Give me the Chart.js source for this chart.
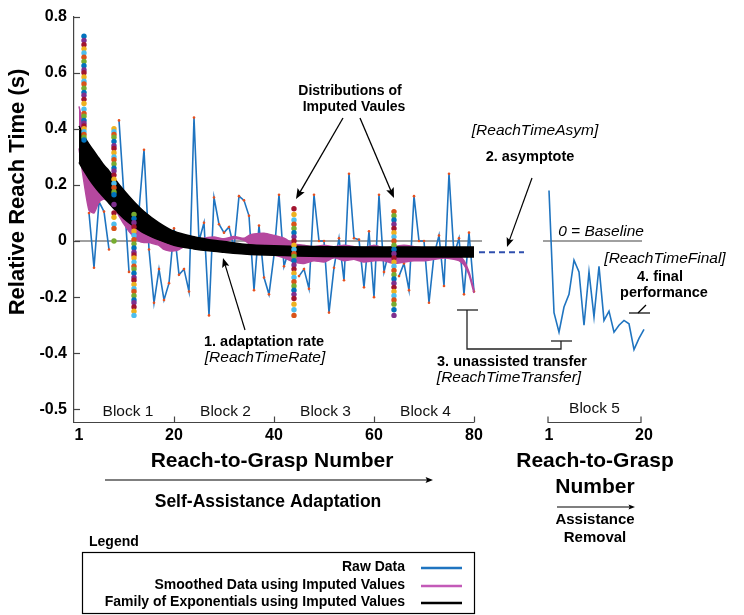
<!DOCTYPE html>
<html>
<head>
<meta charset="utf-8">
<script src="https://cdn.jsdelivr.net/npm/chart.js@4.4.0/dist/chart.umd.min.js"></script>
<style>
  body { margin: 0; background: #fff; }
  canvas { display: block; }
</style>
</head>
<body>
<canvas id="chart" width="744" height="615"></canvas>
<script>
// Relative reach time (s) per reach-to-grasp. null = missing trial
const rawMain = [
  null, null, 0.10, -0.095, 0.14, 0.105, -0.03, null, 0.43, 0.16,
  -0.11, null, 0.11, 0.325, -0.03, -0.22, -0.10, -0.21, -0.15, 0.045,
  -0.12, -0.10, -0.18, 0.44, 0.0, 0.065, -0.265, 0.155, 0.06, 0.03,
  0.05, -0.025, 0.16, 0.145, 0.09, -0.175, 0.055, -0.13, -0.19, -0.05,
  0.165, -0.09, -0.03, null, -0.125, -0.10, -0.17, 0.165, 0.0, 0.0,
  -0.255, -0.095, 0.01, -0.14, 0.24, 0.01, 0.005, -0.165, 0.035, -0.2,
  0.165, -0.11, -0.035, null, -0.125, -0.08, -0.175, 0.16, 0.0, 0.0,
  -0.22, -0.05, 0.02, -0.16, 0.24, -0.05, 0.01, -0.19, 0.03, -0.18
];
const rawBlock5 = [
  0.18, -0.255, -0.325, -0.235, -0.19, -0.068, -0.11, -0.30, -0.11, -0.27,
  -0.09, -0.283, -0.25, -0.325, -0.30, -0.283, -0.295, -0.387, -0.347, -0.315
];

// imputed value distributions at the missing trials
const imputedTrials = [2, 8, 12, 44, 64];
const imputedValues = [
  [0.73, 0.715, 0.70, 0.685, 0.67, 0.655, 0.64, 0.625, 0.61, 0.60, 0.585, 0.57, 0.56, 0.545, 0.53,
   0.52, 0.505, 0.49, 0.47, 0.455, 0.445, 0.43, 0.42, 0.41, 0.40, 0.39, 0.38, 0.37, 0.36],
  [0.40, 0.39, 0.38, 0.37, 0.355, 0.34, 0.33, 0.315, 0.30, 0.29, 0.275, 0.26, 0.25, 0.235, 0.22,
   0.205, 0.19, 0.175, 0.165, 0.13, 0.10, 0.085, 0.06, 0.045, 0.0],
  [0.095, 0.08, 0.065, 0.05, 0.035, 0.02, 0.005, -0.01, -0.025, -0.04, -0.05, -0.06, -0.075, -0.09,
   -0.10, -0.115, -0.13, -0.14, -0.155, -0.17, -0.18, -0.195, -0.21, -0.22, -0.235, -0.25, -0.265],
  [0.115, 0.095, 0.075, 0.06, 0.045, 0.03, 0.015, 0.0, -0.015, -0.03, -0.045, -0.055, -0.07, -0.085,
   -0.10, -0.115, -0.13, -0.145, -0.16, -0.175, -0.19, -0.205, -0.225, -0.245, -0.265],
  [0.105, 0.09, 0.075, 0.06, 0.045, 0.03, 0.015, 0.0, -0.015, -0.03, -0.045, -0.06, -0.075, -0.09,
   -0.105, -0.12, -0.135, -0.15, -0.165, -0.18, -0.195, -0.21, -0.225, -0.245, -0.265]
];

// smoothed data band (upper / lower edge)
const smoothTrials = [1, 2, 3, 4, 5, 6, 7, 8, 9, 10, 11, 12, 13, 14, 15, 16, 17, 18, 19, 20,
  21, 22, 24, 26, 28, 30, 32, 34, 35, 36, 38, 40, 42, 44, 46, 48, 50, 52, 54, 56, 58, 60,
  62, 64, 66, 68, 70, 72, 74, 76, 77, 78, 79, 80];
const smoothUpper = [0.48, 0.40, 0.27, 0.23, 0.25, 0.22, 0.19, 0.17, 0.15, 0.13, 0.11, 0.09, 0.075,
  0.07, 0.065, 0.055, 0.04, 0.03, 0.02, 0.015, 0.01, 0.005, 0.004, 0.01, 0.014, 0.008, 0.016, 0.01,
  0.02, 0.025, 0.028, 0.02, 0.01, -0.01, -0.015, -0.02, -0.015, -0.02, -0.015, -0.02, -0.025, -0.015,
  -0.025, -0.02, -0.015, -0.02, -0.025, -0.035, -0.04, -0.045, -0.05, -0.07, -0.11, -0.175];
const smoothLower = [0.33, 0.21, 0.11, 0.10, 0.14, 0.15, 0.14, 0.12, 0.09, 0.06, 0.035, 0.015, 0.0,
  -0.005, -0.005, -0.01, -0.015, -0.03, -0.035, -0.035, -0.03, -0.02, -0.004, 0.002, 0.006, 0.0,
  0.008, 0.003, -0.01, -0.035, -0.045, -0.05, -0.06, -0.075, -0.08, -0.07, -0.075, -0.06, -0.07,
  -0.065, -0.075, -0.07, -0.07, -0.08, -0.075, -0.07, -0.07, -0.065, -0.06, -0.065, -0.07, -0.085,
  -0.12, -0.185];

// envelope of the family of exponential fits
const expTrials = [1, 2, 3, 4, 5, 6, 7, 8, 10, 12, 14, 17, 20, 24, 27, 30, 34, 40, 50, 60, 80];
const expUpper = [0.41, 0.375, 0.345, 0.32, 0.295, 0.27, 0.25, 0.225, 0.18, 0.14, 0.105, 0.065, 0.035,
  0.015, 0.005, -0.002, -0.011, -0.017, -0.02, -0.021, -0.021];
const expLower = [0.28, 0.25, 0.222, 0.197, 0.175, 0.155, 0.135, 0.115, 0.08, 0.052, 0.028, 0.004,
  -0.015, -0.028, -0.035, -0.04, -0.046, -0.051, -0.055, -0.056, -0.057];

const asymptote = -0.04;
const asymSpan = [81, 90];

// axes
const block5Offset = 94;          // block 5 trial t is drawn at t + 94
const xTicks = [1, 20, 40, 60, 80];
const block5Ticks = [1, 20];
const yTicks = [0.8, 0.6, 0.4, 0.2, 0, -0.2, -0.4, -0.6];
const yTickLabels = ['0.8', '0.6', '0.4', '0.2', '0', '-0.2', '-0.4', '-0.5'];
const blockNames = ['Block 1', 'Block 2', 'Block 3', 'Block 4'];
const blockEdges = [1, 20, 40, 60, 80];

const FONT = 'Arial, "Liberation Sans", sans-serif';
const BLUE = '#1f74c0';
const MAGENTA = '#b5489f';
const dotColors = ['#0072bd', '#d95319', '#edb120', '#7e2f8e', '#77ac30', '#4dbeee', '#a2142f'];

const pts = (xs, ys) => xs.map((x, i) => ({ x: x, y: ys[i] }));

const datasets = [
  { label: 'Raw Data', data: rawMain.map((v, i) => ({ x: i + 1, y: v })), order: 10,
    borderColor: BLUE, borderWidth: 1.6, pointRadius: 1.3, pointBackgroundColor: '#e8501e',
    pointBorderWidth: 0, tension: 0 },
  { label: 'Raw Block 5', data: rawBlock5.map((v, i) => ({ x: i + 1 + block5Offset, y: v })), order: 10,
    borderColor: BLUE, borderWidth: 1.6, pointRadius: 0, tension: 0 },
  { label: 'smoothUpper', data: pts(smoothTrials, smoothUpper), order: 8,
    borderColor: MAGENTA, borderWidth: 1.5, pointRadius: 0, tension: 0.2, fill: false },
  { label: 'smoothLower', data: pts(smoothTrials, smoothLower), order: 8,
    borderColor: MAGENTA, borderWidth: 1.5, pointRadius: 0, tension: 0.2,
    fill: { target: 2 }, backgroundColor: MAGENTA },
  { label: 'expUpper', data: pts(expTrials, expUpper), order: 6,
    borderColor: '#000', borderWidth: 1.5, pointRadius: 0, cubicInterpolationMode: 'monotone', fill: false },
  { label: 'expLower', data: pts(expTrials, expLower), order: 6,
    borderColor: '#000', borderWidth: 1.5, pointRadius: 0, cubicInterpolationMode: 'monotone',
    fill: { target: 4 }, backgroundColor: '#000' },
  { label: 'asym', data: asymSpan.map(x => ({ x: x, y: asymptote })), order: 5,
    borderColor: '#2f4fae', borderWidth: 2, borderDash: [6, 4], pointRadius: 0 }
];
imputedTrials.forEach((t, k) => {
  datasets.push({
    label: 'imputed' + k, data: imputedValues[k].map(v => ({ x: t, y: v })), order: 1,
    showLine: false, pointRadius: 2.7, pointBorderWidth: 0,
    pointBackgroundColor: c => dotColors[(c.dataIndex * 3 + k * 2) % dotColors.length]
  });
});

function text(ctx, s, x, y, font, align) {
  ctx.font = font;
  ctx.textAlign = align || 'center';
  ctx.textBaseline = 'middle';
  ctx.fillText(s, x, y);
}
function line(ctx, coords) {
  ctx.beginPath();
  ctx.moveTo(coords[0], coords[1]);
  for (let i = 2; i < coords.length; i += 2) ctx.lineTo(coords[i], coords[i + 1]);
  ctx.stroke();
}
function arrow(ctx, x1, y1, x2, y2, head, width) {
  const a = Math.atan2(y2 - y1, x2 - x1);
  ctx.lineWidth = width;
  line(ctx, [x1, y1, x2 - Math.cos(a) * head * 0.7, y2 - Math.sin(a) * head * 0.7]);
  ctx.beginPath();
  ctx.moveTo(x2, y2);
  ctx.lineTo(x2 - head * Math.cos(a - 0.38), y2 - head * Math.sin(a - 0.38));
  ctx.lineTo(x2 - head * 0.75 * Math.cos(a), y2 - head * 0.75 * Math.sin(a));
  ctx.lineTo(x2 - head * Math.cos(a + 0.38), y2 - head * Math.sin(a + 0.38));
  ctx.closePath();
  ctx.fill();
}

const overlay = {
  id: 'overlay',
  beforeDatasetsDraw(chart) {
    const { ctx, scales: { x, y } } = chart;
    const y0 = y.getPixelForValue(0);
    ctx.save();
    ctx.strokeStyle = '#808080';
    ctx.lineWidth = 1.5;
    line(ctx, [x.getPixelForValue(0.2), y0, x.getPixelForValue(81.6), y0]);
    line(ctx, [x.getPixelForValue(93.8), y0, x.getPixelForValue(113.6), y0]);
    ctx.restore();
  },
  afterDraw(chart) {
    const { ctx, chartArea: area, scales: { x, y } } = chart;
    const B = 'bold ', I = 'italic ';
    ctx.save();
    ctx.fillStyle = '#000';
    ctx.strokeStyle = '#444';
    ctx.lineWidth = 1.2;

    // y tick marks (inside)
    yTicks.forEach(v => {
      const py = Math.round(y.getPixelForValue(v)) + 0.5;
      line(ctx, [area.left, py, area.left + 6, py]);
    });
    // bottom axis for blocks 1-4
    const yb = area.bottom + 0.5;
    line(ctx, [area.left, yb, x.getPixelForValue(80), yb]);
    blockEdges.slice(1).forEach(v => {
      const px = Math.round(x.getPixelForValue(v)) + 0.5;
      line(ctx, [px, yb, px, yb - 6]);
    });
    // block 5 bracket
    const b5a = x.getPixelForValue(block5Offset + 1) - 1, b5b = x.getPixelForValue(block5Offset + 20) - 3;
    line(ctx, [b5a, yb - 6, b5a, yb, b5b, yb, b5b, yb - 6]);

    // block labels
    ctx.fillStyle = '#111';
    blockNames.forEach((name, i) => {
      text(ctx, name, x.getPixelForValue((blockEdges[i] + blockEdges[i + 1]) / 2 + 0.3), 412, '15.5px ' + FONT);
    });
    text(ctx, 'Block 5', (b5a + b5b) / 2, 409, '15.5px ' + FONT);

    // axis titles
    ctx.fillStyle = '#000';
    ctx.save();
    ctx.translate(18, 192);
    ctx.rotate(-Math.PI / 2);
    text(ctx, 'Relative Reach Time (s)', 0, 0, B + '22px ' + FONT);
    ctx.restore();
    text(ctx, 'Reach-to-Grasp Number', 272, 461, B + '21px ' + FONT);
    ctx.strokeStyle = '#000';
    arrow(ctx, 105, 480, 433, 480, 8, 1.2);
    text(ctx, 'Self-Assistance Adaptation', 268, 502, B + '17.5px ' + FONT);
    text(ctx, 'Reach-to-Grasp', 595, 461, B + '21px ' + FONT);
    text(ctx, 'Number', 595, 487, B + '21px ' + FONT);
    arrow(ctx, 557, 507, 635, 507, 7, 1.2);
    text(ctx, 'Assistance', 595, 520, B + '15px ' + FONT);
    text(ctx, 'Removal', 595, 538, B + '15px ' + FONT);

    // annotations
    text(ctx, 'Distributions of', 350, 91, B + '14px ' + FONT);
    text(ctx, 'Imputed Vaules', 354, 107, B + '14px ' + FONT);
    arrow(ctx, 343, 118, x.getPixelForValue(imputedTrials[3]) + 2, 199, 11, 1.3);
    arrow(ctx, 360, 118, x.getPixelForValue(imputedTrials[4]), 198, 11, 1.3);

    text(ctx, '[ReachTimeAsym]', 535, 131, I + '15.5px ' + FONT);
    text(ctx, '2. asymptote', 530, 157, B + '14.5px ' + FONT);
    arrow(ctx, 532, 178, 507, 247, 10, 1.2);

    text(ctx, '0 = Baseline', 601, 232, I + '15.5px ' + FONT);

    text(ctx, '[ReachTimeFinal]', 665, 259, I + '15.5px ' + FONT);
    text(ctx, '4. final', 660, 277, B + '14.5px ' + FONT);
    text(ctx, 'performance', 664, 293, B + '14.5px ' + FONT);
    ctx.lineWidth = 1.2;
    line(ctx, [629, 313, 650, 313]);
    line(ctx, [638, 313, 646, 305]);

    text(ctx, '1. adaptation rate', 264, 342, B + '14.5px ' + FONT);
    text(ctx, '[ReachTimeRate]', 265, 358, I + '15.5px ' + FONT);
    arrow(ctx, 245, 330, 223, 258, 10, 1.2);

    ctx.strokeStyle = '#222';
    ctx.lineWidth = 1.3;
    line(ctx, [457, 310, 478, 310]);
    line(ctx, [467, 310, 467, 349, 561, 349, 561, 341]);
    line(ctx, [551, 341, 572, 341]);
    text(ctx, '3. unassisted transfer', 512, 362, B + '14.5px ' + FONT);
    text(ctx, '[ReachTimeTransfer]', 509, 378, I + '15.5px ' + FONT);

    // legend
    text(ctx, 'Legend', 89, 542, B + '14px ' + FONT, 'left');
    ctx.strokeStyle = '#000';
    ctx.lineWidth = 1.2;
    ctx.strokeRect(82.5, 552.5, 392, 61);
    const rows = [
      ['Raw Data', BLUE, 567],
      ['Smoothed Data using Imputed Values', '#c35ab8', 585],
      ['Family of Exponentials using Imputed Values', '#000', 602]
    ];
    rows.forEach(r => {
      text(ctx, r[0], 405, r[2], B + '14px ' + FONT, 'right');
      ctx.strokeStyle = r[1];
      ctx.lineWidth = 2.5;
      line(ctx, [421, r[2] + 1, 462, r[2] + 1]);
    });
    ctx.restore();
  }
};

new Chart(document.getElementById('chart'), {
  type: 'line',
  data: { datasets: datasets },
  options: {
    responsive: false,
    devicePixelRatio: 1,
    animation: false,
    events: [],
    layout: { padding: { top: 14, right: 20, left: 0, bottom: 0 } },
    plugins: { legend: { display: false }, tooltip: { enabled: false } },
    scales: {
      x: {
        type: 'linear', min: 0, max: 130,
        grid: { display: false, drawTicks: false }, border: { display: false },
        afterFit: s => { s.height = 193; },
        afterBuildTicks: s => {
          s.ticks = xTicks.concat(block5Ticks.map(t => t + block5Offset)).map(v => ({ value: v }));
        },
        ticks: {
          autoSkip: false, maxRotation: 0, padding: 4, color: '#000',
          font: { family: FONT, size: 16, weight: 'bold' },
          callback: v => (v > block5Offset ? v - block5Offset : v)
        }
      },
      y: {
        min: -0.645, max: 0.8,
        grid: { display: false, drawTicks: false },
        border: { display: true, color: '#444', width: 1.2 },
        afterFit: s => { s.width = 74; },
        afterBuildTicks: s => { s.ticks = yTicks.map(v => ({ value: v })); },
        ticks: {
          padding: 7, color: '#000',
          font: { family: FONT, size: 16, weight: 'bold' },
          callback: v => yTickLabels[yTicks.indexOf(v)]
        }
      }
    }
  },
  plugins: [overlay]
});
</script>
</body>
</html>
